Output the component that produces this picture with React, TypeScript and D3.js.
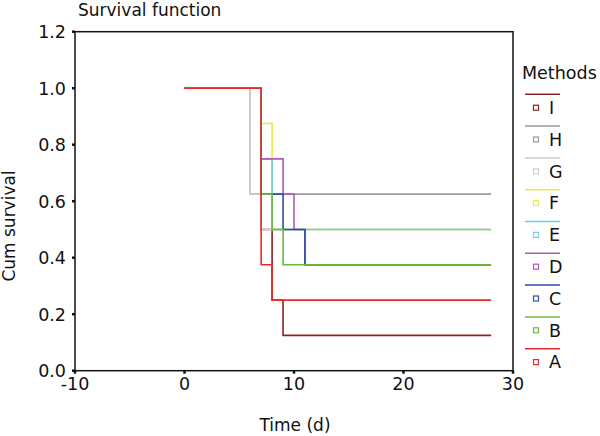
import React from "react";
import * as d3 from "d3";

const seriesNames = ["I", "H", "G", "F", "E", "D", "C", "B", "A"];
const seriesColors = ["#8b2222", "#9a9a9a", "#cdcdcd", "#e8e845", "#6fcfdd", "#ad5ab8", "#2b4fa6", "#6cb83f", "#e82a2a"];

const timesI = [0, 7, 8, 9, 28];
const survI = [1, 0.5, 0.25, 0.125, 0.125];
const timesH = [0, 6, 28];
const survH = [1, 0.625, 0.625];
const timesG = [0, 6, 7, 28];
const survG = [1, 0.625, 0.5, 0.5];
const timesF = [0, 7, 8, 28];
const survF = [1, 0.875, 0.5, 0.5];
const timesE = [0, 7, 8, 28];
const survE = [1, 0.75, 0.5, 0.5];
const timesD = [0, 7, 9, 10, 11, 28];
const survD = [1, 0.75, 0.625, 0.5, 0.375, 0.375];
const timesC = [0, 7, 9, 11, 28];
const survC = [1, 0.625, 0.5, 0.375, 0.375];
const timesB = [0, 7, 8, 9, 28];
const survB = [1, 0.625, 0.5, 0.375, 0.375];
const timesA = [0, 7, 8, 28];
const survA = [1, 0.375, 0.25, 0.25];

const allTimes = [timesI, timesH, timesG, timesF, timesE, timesD, timesC, timesB, timesA];
const allSurv = [survI, survH, survG, survF, survE, survD, survC, survB, survA];

const xTicks = [-10, 0, 10, 20, 30];
const yTicks = [0, 0.2, 0.4, 0.6, 0.8, 1.0, 1.2];

const FONT = "DejaVu Sans, sans-serif";

export default function App() {
  const left = 75, right = 513, top = 31.7, bottom = 370.7;
  const x = d3.scaleLinear().domain([-10, 30]).range([left, right]);
  const y = d3.scaleLinear().domain([0, 1.2]).range([bottom, top]);
  const line = d3
    .line<[number, number]>()
    .x((d) => x(d[0]))
    .y((d) => y(d[1]))
    .curve(d3.curveStepAfter);

  const legendTop = 94.3;
  const legendStep = 31.8;

  return (
    <svg
      width={600}
      height={436}
      style={{ position: "absolute", left: 0, top: 0, background: "#fff" }}
      fontFamily={FONT}
    >
      <rect x={0} y={0} width={600} height={436} fill="#fff" />
      <text x={78} y={16} fontSize={17} fill="#111">Survival function</text>

      {allTimes.map((ts, i) => {
        const pts: [number, number][] = ts.map((t, j) => [t, allSurv[i][j]]);
        return (
          <path key={i} d={line(pts) || ""} fill="none" stroke={seriesColors[i]} strokeWidth={1.6} />
        );
      })}

      <rect x={left} y={top} width={right - left} height={bottom - top} fill="none" stroke="#111" strokeWidth={1.5} />

      {yTicks.map((v) => (
        <g key={"y" + v}>
          <line x1={left - 3} x2={left} y1={y(v)} y2={y(v)} stroke="#111" strokeWidth={2.5} />
          <text x={66} y={y(v)} dy="0.36em" textAnchor="end" fontSize={17.5} fill="#111">
            {d3.format(".1f")(v)}
          </text>
        </g>
      ))}

      {xTicks.map((v) => (
        <g key={"x" + v}>
          <line x1={x(v)} x2={x(v)} y1={bottom} y2={bottom + 3} stroke="#111" strokeWidth={2.5} />
          <text x={x(v)} y={390} textAnchor="middle" fontSize={17.5} fill="#111">
            {String(v)}
          </text>
        </g>
      ))}

      <text x={295} y={431} textAnchor="middle" fontSize={17} fill="#111">Time (d)</text>
      <text transform={`translate(15,226) rotate(-90)`} textAnchor="middle" fontSize={17} fill="#111">
        Cum survival
      </text>

      <text x={522} y={79} fontSize={17.5} fill="#111">Methods</text>
      {seriesNames.map((n, i) => {
        const ly = legendTop + i * legendStep;
        const my = ly + 13.4;
        return (
          <g key={n}>
            <line x1={525} x2={560} y1={ly} y2={ly} stroke={seriesColors[i]} strokeWidth={1.5} />
            <rect x={533.5} y={my - 2.5} width={5} height={5} fill="none" stroke={seriesColors[i]} strokeWidth={1.2} />
            <text x={549} y={my} dy="0.36em" fontSize={17.5} fill="#111">{n}</text>
          </g>
        );
      })}
    </svg>
  );
}
